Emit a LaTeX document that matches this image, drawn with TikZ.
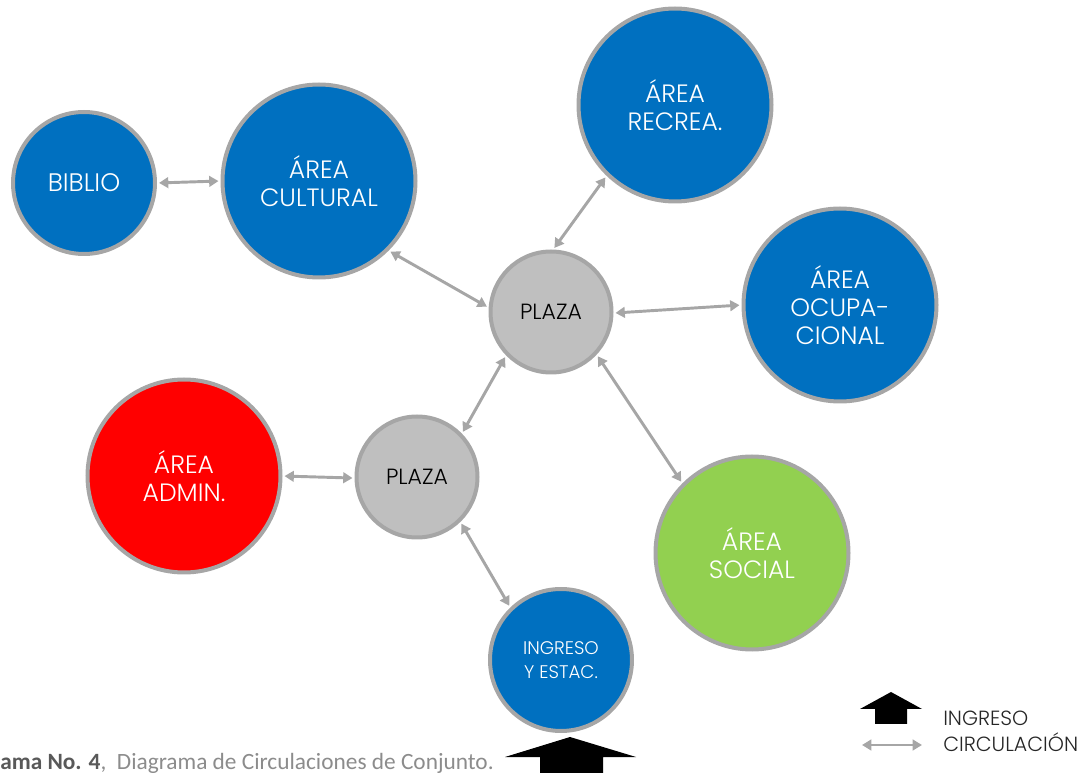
\documentclass[tikz,border=0pt]{standalone}
\usepackage{fontspec}
\usetikzlibrary{arrows.meta}
\IfFontExistsTF{Poppins Light}{\newfontfamily\geo{Poppins Light}}{\newfontfamily\geo{Poppins}}
\newfontfamily\capfont{Carlito}
\definecolor{cblue}{HTML}{0070C0}
\definecolor{cred}{HTML}{FF0000}
\definecolor{cgreen}{HTML}{92D050}
\definecolor{cgray}{HTML}{BFBFBF}
\definecolor{cborder}{HTML}{A6A6A6}
\definecolor{ctext}{HTML}{8C8C8C}
\definecolor{cdark}{HTML}{595959}
\tikzset{
  bubble/.style={circle, draw=cborder, line width=3pt, text=white, align=center, inner sep=0pt, font=\geo\fontsize{18.8}{21}\selectfont},
  big/.style={bubble, minimum size=144.75pt},
  small/.style={bubble, minimum size=106.5pt},
  plaza/.style={bubble, fill=cgray, text=black, minimum size=90.75pt, font=\geo\fontsize{16.5}{18}\selectfont},
  circ/.style={{Triangle[length=7pt,width=8pt]}-{Triangle[length=7pt,width=8pt]}, draw=cborder, line width=2.2pt, shorten <=1.5pt, shorten >=1.5pt},
  entry/.style={fill=black, draw=none},
  legend/.style={font=\geo\fontsize{15.4}{17}\selectfont, text=black!85, anchor=west, inner sep=0pt}
}
\begin{document}
\begin{tikzpicture}[x=0.75pt,y=-0.75pt]
\useasboundingbox (0,0) rectangle (1083,773);
% bubbles
\node[small, fill=cblue, font=\geo\fontsize{19}{21}\selectfont] (biblio) at (84,183) {BIBLIO};
\node[big, fill=cblue] (cult) at (319,181) {ÁREA\\CULTURAL};
\node[big, fill=cblue] (recr) at (675,105) {ÁREA\\RECREA.};
\node[plaza] (p1) at (551,312) {PLAZA};
\node[big, fill=cblue] (ocup) at (840,305) {ÁREA\\OCUPA-\\CIONAL};
\node[big, fill=cred] (admin) at (184,476) {ÁREA\\ADMIN.};
\node[plaza] (p2) at (417,477) {PLAZA};
\node[big, fill=cgreen] (soc) at (752,553) {ÁREA\\SOCIAL};
\node[small, fill=cblue, font=\geo\fontsize{13.7}{18}\selectfont] (ing) at (561,660) {INGRESO\\Y ESTAC.};
% circulation
\draw[circ] (biblio.0) -- (cult.180);
\draw[circ] (cult.-45) -- (p1.176);
\draw[circ] (recr.-134) -- (p1.88);
\draw[circ] (p1.-1) -- (ocup.180);
\draw[circ] (p1.-43) -- (soc.135);
\draw[circ] (p1.-136) -- (p2.44);
\draw[circ] (admin.0) -- (p2.181);
\draw[circ] (p2.-46) -- (ing.134);
% entry arrow
\coordinate (enttip) at (570,737);
\fill[entry] (enttip) -- (636,757) -- (603,757) -- (603,780) -- (540,780) -- (540,757) -- (505,757) -- cycle;
% caption
\node[anchor=base west, inner sep=0pt, text=ctext, font=\capfont\fontsize{17.5}{19}\selectfont] (capt) at (0,769) {\textcolor{cdark}{\textbf{ama No. 4}},\ \ Diagrama de Circulaciones de Conjunto.};
% legend
\coordinate (legtip) at (891,692);
\fill[entry] (legtip) -- (922,709) -- (907,709) -- (907,724) -- (875,724) -- (875,709) -- (860,709) -- cycle;
\coordinate (lga) at (862,745);
\coordinate (lgb) at (922,745);
\draw[circ, line width=1.8pt, shorten <=0pt, shorten >=0pt] (lga) -- (lgb);
\node[legend] (lin) at (943,718) {INGRESO};
\node[legend] (lci) at (943,742) {CIRCULACIÓN};
\end{tikzpicture}
\end{document}
